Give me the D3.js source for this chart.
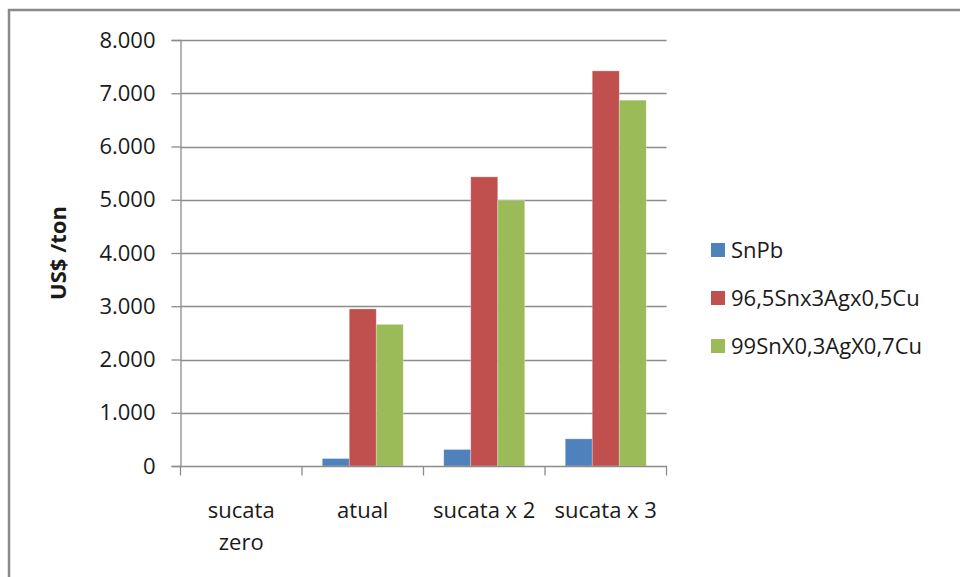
<!DOCTYPE html>
<html>
<head>
<meta charset="utf-8">
<script src="https://cdn.jsdelivr.net/npm/d3@7"></script>
<style>
  html, body { margin: 0; padding: 0; background: #fff; }
  svg { display: block; font-family: "Open Sans", "Noto Sans", sans-serif; }
</style>
</head>
<body>
<svg id="chart" width="960" height="577"></svg>
<script>
// Scrap scenarios and solder alloys
const categories = ["sucata zero", "atual", "sucata x 2", "sucata x 3"];
const seriesNames = ["SnPb", "96,5Snx3Agx0,5Cu", "99SnX0,3AgX0,7Cu"];
const seriesColors = ["#4F81BD", "#C0504D", "#9BBB59"];
// cost in US$/ton, one array per alloy, in category order
const snPb = [0, 140, 310, 510];
const snAgCu305 = [0, 2950, 5430, 7420];
const snAgCu0307 = [0, 2660, 4990, 6870];
const yTicks = [0, 1000, 2000, 3000, 4000, 5000, 6000, 7000, 8000];
const yTitle = "US$ /ton";

const values = [snPb, snAgCu305, snAgCu0307];
const svg = d3.select("#chart");

// outer frame
svg.append("path")
  .attr("d", "M9,577 V10 H960")
  .attr("fill", "none")
  .attr("stroke", "#8a8a8a")
  .attr("stroke-width", 2.5);

const plot = { left: 180.5, right: 666.5, top: 40, bottom: 466 };

const x = d3.scaleBand().domain(categories).range([plot.left, plot.right]).padding(0);
const xs = d3.scaleBand().domain(d3.range(seriesNames.length))
  .range([0, x.bandwidth()]).paddingInner(0).paddingOuter(0.75);
const y = d3.scaleLinear().domain([0, 8000]).range([plot.bottom, plot.top]);

const fmt = v => d3.format(",")(v).replace(/,/g, ".");

// gridlines
svg.append("g")
  .selectAll("line")
  .data(yTicks.filter(t => t > 0))
  .join("line")
  .attr("x1", plot.left).attr("x2", plot.right)
  .attr("y1", d => Math.round(y(d)) + 0.5).attr("y2", d => Math.round(y(d)) + 0.5)
  .attr("stroke", "#8c8c8c").attr("stroke-width", 1.3);

// bars
const groups = svg.append("g").selectAll("g")
  .data(categories)
  .join("g")
  .attr("transform", d => `translate(${x(d)},0)`);

groups.selectAll("rect")
  .data((c, i) => values.map((arr, s) => ({ s, v: arr[i] })))
  .join("rect")
  .attr("x", d => xs(d.s))
  .attr("width", xs.bandwidth())
  .attr("y", d => y(d.v))
  .attr("height", d => y(0) - y(d.v))
  .attr("fill", d => seriesColors[d.s])
  .attr("stroke", "rgba(255,255,255,0.35)")
  .attr("stroke-width", 0.8);

// y axis
const yAxis = d3.axisLeft(y).tickValues(yTicks).tickFormat(fmt).tickSize(9).tickPadding(16);
const gy = svg.append("g").attr("transform", `translate(${plot.left},0)`).call(yAxis);
gy.select(".domain").attr("stroke", "#8c8c8c").attr("stroke-width", 1.3);
gy.selectAll(".tick line").attr("stroke", "#8c8c8c").attr("stroke-width", 1.3);
gy.selectAll(".tick text")
  .attr("font-size", 22).attr("fill", "#1a1a1a")
  .attr("font-family", "'Open Sans', sans-serif");

// x axis
const xAxis = d3.axisBottom(x).tickSize(0).tickFormat("");
const gx = svg.append("g").attr("transform", `translate(0,${plot.bottom})`).call(xAxis);
gx.select(".domain").attr("stroke", "#8c8c8c").attr("stroke-width", 1.3);
gx.selectAll(".tick").remove();

// tick marks between categories
svg.append("g").selectAll("line")
  .data(d3.range(categories.length + 1))
  .join("line")
  .attr("x1", i => plot.left + i * x.step())
  .attr("x2", i => plot.left + i * x.step())
  .attr("y1", plot.bottom).attr("y2", plot.bottom + 9.5)
  .attr("stroke", "#8c8c8c").attr("stroke-width", 1.3);

// category labels, wrapped to the band width
const catLabels = svg.append("g").selectAll("text")
  .data(categories)
  .join("text")
  .attr("x", d => x(d) + x.bandwidth() / 2)
  .attr("y", 518)
  .attr("text-anchor", "middle")
  .attr("font-size", 22)
  .attr("fill", "#1a1a1a");

catLabels.each(function (d) {
  const t = d3.select(this);
  const words = d.split(" ");
  t.text(d);
  if (this.getComputedTextLength() > x.bandwidth() - 10 && words.length > 1) {
    t.text(null);
    const lines = [];
    let line = [];
    words.forEach(w => {
      line.push(w);
      const probe = t.append("tspan").text(line.join(" "));
      const wide = probe.node().getComputedTextLength() > x.bandwidth() - 10;
      probe.remove();
      if (wide && line.length > 1) {
        line.pop();
        lines.push(line.join(" "));
        line = [w];
      }
    });
    lines.push(line.join(" "));
    lines.forEach((l, i) => {
      t.append("tspan")
        .attr("x", x(d) + x.bandwidth() / 2)
        .attr("dy", i === 0 ? 0 : 32)
        .text(l);
    });
  }
});

// y axis title
svg.append("text")
  .attr("transform", "translate(66,253) rotate(-90)")
  .attr("text-anchor", "middle")
  .attr("font-size", 22)
  .attr("font-weight", "bold")
  .attr("fill", "#1a1a1a")
  .text(yTitle);

// legend
const legend = svg.append("g").selectAll("g")
  .data(seriesNames)
  .join("g")
  .attr("transform", (d, i) => `translate(711,${250 + i * 48})`);

legend.append("rect")
  .attr("x", 0).attr("y", -7)
  .attr("width", 14).attr("height", 14)
  .attr("fill", (d, i) => seriesColors[i]);

legend.append("text")
  .attr("x", 20)
  .attr("y", 0)
  .attr("dy", "0.35em")
  .attr("font-size", 22)
  .attr("fill", "#1a1a1a")
  .text(d => d);
</script>
</body>
</html>
